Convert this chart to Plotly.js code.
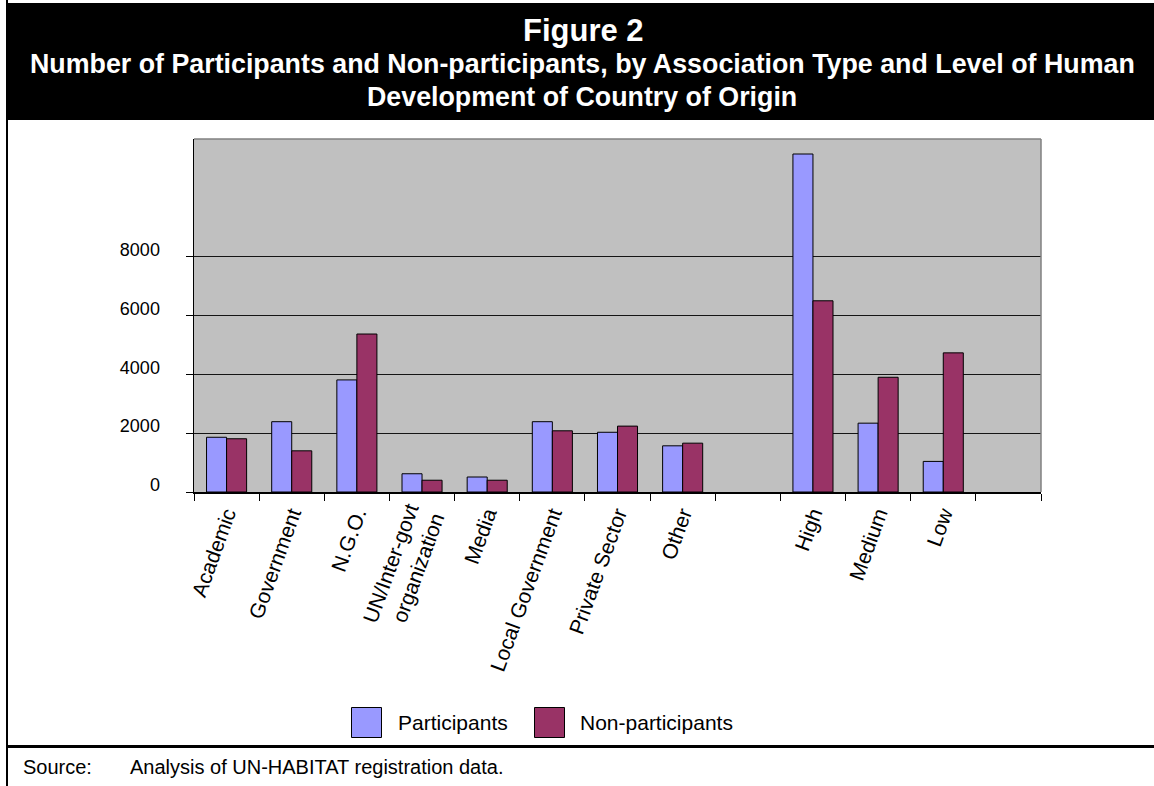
<!DOCTYPE html>
<html>
<head>
<meta charset="utf-8">
<script src="https://cdn.plot.ly/plotly-3.0.1.min.js"></script>
<style>
  html, body { margin: 0; padding: 0; background: #ffffff; }
  #chart { width: 1154px; height: 786px; }
</style>
</head>
<body>
<div id="chart"></div>
<script>
// Categories along the x axis (two empty slots keep the layout spacing)
const categories = [
  'Academic', 'Government', 'N.G.O.', 'UN/Inter-govt<br>organization', 'Media',
  'Local Government', 'Private Sector', 'Other', ' ', 'High', 'Medium', 'Low', '  '
];
// Number of participants per category
const participants = [1860, 2390, 3810, 620, 510, 2390, 2030, 1570, null, 11490, 2340, 1040, null];
// Number of non-participants per category
const nonParticipants = [1810, 1400, 5370, 400, 400, 2080, 2240, 1660, null, 6500, 3900, 4730, null];
// Y axis ticks
const yTicks = [0, 2000, 4000, 6000, 8000];
const seriesNames = ['Participants', 'Non-participants'];

const COLORS = ['#9999FF', '#993366'];
const FONT = '"Liberation Sans", Arial, Helvetica, sans-serif';

// Page geometry (pixels)
const W = 1154, H = 786;
const M = { l: 194, r: 113, t: 139, b: 294 };
const PW = W - M.l - M.r, PH = H - M.t - M.b;
const px = x => (x - M.l) / PW;
const py = y => (M.t + PH - y) / PH;

const traces = [
  {
    type: 'bar', name: seriesNames[0], x: categories, y: participants,
    marker: { color: COLORS[0], line: { color: '#000000', width: 1 } },
    showlegend: false, hoverinfo: 'x+y'
  },
  {
    type: 'bar', name: seriesNames[1], x: categories, y: nonParticipants,
    marker: { color: COLORS[1], line: { color: '#000000', width: 1 } },
    showlegend: false, hoverinfo: 'x+y'
  }
];

const shapes = [
  // header band
  { type: 'rect', xref: 'paper', yref: 'paper', x0: px(6), x1: px(W), y0: py(3), y1: py(120),
    fillcolor: '#000000', line: { width: 0 }, layer: 'above' },
  // left frame line
  { type: 'line', xref: 'paper', yref: 'paper', x0: px(7), x1: px(7), y0: py(0), y1: py(H),
    line: { color: '#000000', width: 2 } },
  // rule above the source line
  { type: 'line', xref: 'paper', yref: 'paper', x0: px(7), x1: px(W), y0: py(746.5), y1: py(746.5),
    line: { color: '#000000', width: 3 } },
  // plot area border (top and right)
  { type: 'line', xref: 'paper', yref: 'paper', x0: 0, x1: 1, y0: 1, y1: 1,
    line: { color: '#808080', width: 1.5 } },
  { type: 'line', xref: 'paper', yref: 'paper', x0: 1, x1: 1, y0: 0, y1: 1,
    line: { color: '#808080', width: 1.5 } },
  // legend swatches
  { type: 'rect', xref: 'paper', yref: 'paper', x0: px(351.5), x1: px(381.5), y0: py(707.5), y1: py(737.5),
    fillcolor: COLORS[0], line: { color: '#000000', width: 1 } },
  { type: 'rect', xref: 'paper', yref: 'paper', x0: px(534.5), x1: px(564.5), y0: py(707.5), y1: py(737.5),
    fillcolor: COLORS[1], line: { color: '#000000', width: 1 } }
];

const white = c => ({ family: FONT, color: '#ffffff', size: c });
const black = c => ({ family: FONT, color: '#000000', size: c });

const annotations = [
  { text: '<b>Figure 2</b>', x: px(583), y: py(30), xref: 'paper', yref: 'paper',
    xanchor: 'center', yanchor: 'middle', showarrow: false, font: white(31) },
  { text: '<b>Number of Participants and Non-participants, by Association Type and Level of Human</b>',
    x: px(582), y: py(64), xref: 'paper', yref: 'paper',
    xanchor: 'center', yanchor: 'middle', showarrow: false, font: white(26.8) },
  { text: '<b>Development of Country of Origin</b>',
    x: px(582), y: py(97), xref: 'paper', yref: 'paper',
    xanchor: 'center', yanchor: 'middle', showarrow: false, font: white(26.8) },
  { text: seriesNames[0], x: px(396), y: py(722), xref: 'paper', yref: 'paper',
    xanchor: 'left', yanchor: 'middle', showarrow: false, font: black(21) },
  { text: seriesNames[1], x: px(578), y: py(722), xref: 'paper', yref: 'paper',
    xanchor: 'left', yanchor: 'middle', showarrow: false, font: black(21) },
  { text: 'Source:', x: px(21), y: py(767), xref: 'paper', yref: 'paper',
    xanchor: 'left', yanchor: 'middle', showarrow: false, font: black(20) },
  { text: 'Analysis of UN-HABITAT registration data.', x: px(128), y: py(767), xref: 'paper', yref: 'paper',
    xanchor: 'left', yanchor: 'middle', showarrow: false, font: black(20) }
];

const layout = {
  width: W, height: H,
  margin: M,
  paper_bgcolor: '#ffffff',
  plot_bgcolor: '#C0C0C0',
  font: black(18),
  barmode: 'group',
  bargap: 0.385,
  bargroupgap: 0,
  showlegend: false,
  xaxis: {
    type: 'category',
    categoryorder: 'array', categoryarray: categories,
    tickson: 'boundaries',
    ticks: 'outside', ticklen: 7, tickcolor: '#000000', tickwidth: 1,
    showline: true, linecolor: '#000000', linewidth: 1.5,
    showgrid: false, zeroline: false,
    tickangle: -70,
    tickfont: black(21),
    fixedrange: true
  },
  yaxis: {
    range: [0, 12000],
    tickvals: yTicks,
    ticks: 'outside', ticklen: 7, tickcolor: '#000000', tickwidth: 1,
    showline: true, linecolor: '#000000', linewidth: 1.5,
    showgrid: true, gridcolor: '#141414', gridwidth: 1.2,
    zeroline: false,
    tickfont: black(18),
    ticklabelstandoff: 22,
    ticklabelshift: -7,
    fixedrange: true
  },
  shapes: shapes,
  annotations: annotations
};

Plotly.newPlot('chart', traces, layout, { displayModeBar: false, staticPlot: true });
</script>
</body>
</html>
